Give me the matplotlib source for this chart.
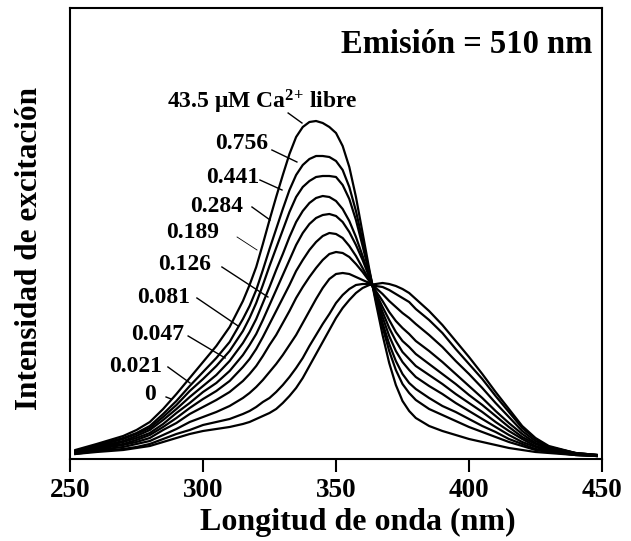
# Excitation spectra of fura-2 at several free Ca2+ levels (emission 510 nm).
# Values, intensity in arbitrary units.

import matplotlib
matplotlib.use('Agg')
import matplotlib.pyplot as plt

plt.rcParams['font.family'] = ['Liberation Serif', 'DejaVu Serif']
plt.rcParams['font.weight'] = 'bold'
plt.rcParams['mathtext.fontset'] = 'custom'
plt.rcParams['mathtext.rm'] = 'Liberation Serif:bold'
plt.rcParams['mathtext.it'] = 'Liberation Serif:bold'
plt.rcParams['mathtext.bf'] = 'Liberation Serif:bold'

# ## Data
wavelength = [252, 260, 270, 275, 280, 285, 290, 295, 300, 305, 310, 315, 317.5,
              320, 322.5, 325, 327.5, 330, 332.5, 335, 337.5, 340, 342.5, 345,
              347.5, 350, 352.5, 355, 357.5, 360, 362.5, 365, 367.5, 370, 372.5,
              375, 377.5, 380, 385, 390, 395, 400, 405, 410, 415, 420, 425, 430,
              440, 448]

ca_0 = [5, 7, 9, 11, 13, 17, 21, 25, 28, 30, 32, 35, 37, 40, 43, 46, 50, 56, 63,
        71, 81, 93, 105, 117, 129, 141, 151, 159, 166, 171, 174, 175, 176, 175,
        173, 170, 166, 160, 148, 134, 118, 102, 85, 67, 50, 33, 21, 13, 6, 4]
ca_0021 = [5, 8, 10, 12, 15, 20, 25, 29, 34, 37, 40, 45, 48, 52, 57, 61, 67, 74,
           82, 91, 101, 113, 124, 135, 145, 156, 164, 170, 174, 175, 175, 173,
           172, 169, 165, 161, 157, 150, 139, 126, 110, 95, 80, 63, 47, 31, 20,
           12, 6, 4]
ca_0047 = [6, 9, 12, 15, 18, 24, 30, 37, 42, 47, 53, 61, 66, 72, 79, 87, 95, 104,
           114, 124, 136, 148, 160, 171, 180, 185, 186, 185, 182, 179, 176, 171,
           165, 158, 152, 146, 141, 135, 124, 112, 98, 85, 71, 56, 42, 28, 18,
           12, 6, 4]
ca_0081 = [6, 10, 14, 17, 21, 29, 36, 45, 52, 59, 67, 78, 85, 93, 103, 114, 124,
           136, 148, 161, 172, 182, 191, 199, 205, 207, 206, 202, 195, 187, 178,
           168, 158, 147, 138, 131, 125, 118, 108, 97, 85, 73, 61, 48, 36, 25,
           16, 11, 5, 4]
ca_0126 = [7, 11, 15, 19, 24, 32, 41, 51, 60, 68, 78, 92, 100, 110, 122, 135, 148,
           161, 174, 188, 199, 209, 217, 223, 226, 225, 221, 213, 203, 191, 179,
           166, 152, 139, 127, 118, 112, 105, 95, 85, 75, 64, 54, 43, 32, 22, 15,
           10, 5, 4]
ca_0189 = [7, 11, 17, 21, 26, 35, 46, 56, 67, 76, 88, 104, 114, 125, 139, 154, 169,
           184, 199, 214, 226, 235, 241, 244, 245, 243, 237, 227, 214, 199, 182,
           164, 147, 131, 118, 107, 100, 93, 84, 75, 65, 56, 47, 37, 28, 20, 13,
           9, 5, 3]
ca_0284 = [8, 12, 18, 23, 29, 39, 50, 62, 73, 84, 98, 116, 127, 140, 156, 172, 189,
           205, 222, 237, 248, 256, 261, 263, 262, 258, 250, 238, 222, 203, 183,
           163, 142, 123, 108, 97, 89, 82, 73, 65, 56, 48, 40, 32, 24, 17, 12, 8,
           5, 3]
ca_0441 = [8, 13, 20, 25, 31, 42, 54, 68, 80, 93, 108, 128, 141, 156, 174, 193,
           211, 229, 247, 262, 272, 278, 282, 283, 283, 282, 274, 260, 239, 213,
           186, 161, 136, 115, 98, 85, 76, 70, 61, 53, 47, 40, 33, 27, 20, 15, 10,
           8, 4, 3]
ca_0756 = [8, 14, 21, 26, 33, 45, 58, 73, 87, 101, 117, 140, 153, 169, 189, 210,
           230, 250, 269, 284, 294, 300, 303, 303, 302, 298, 289, 272, 248, 218,
           188, 159, 132, 108, 89, 75, 66, 59, 50, 44, 38, 32, 27, 22, 17, 13, 9,
           7, 4, 3]
ca_435 = [9, 15, 23, 29, 37, 50, 65, 81, 97, 113, 132, 158, 174, 192, 215, 239,
          262, 284, 305, 322, 332, 337, 338, 336, 332, 326, 313, 292, 262, 226,
          190, 156, 124, 96, 74, 58, 48, 41, 33, 28, 24, 20, 17, 14, 11, 9, 7, 6,
          4, 3]

spectra = [ca_0, ca_0021, ca_0047, ca_0081, ca_0126, ca_0189, ca_0284, ca_0441,
           ca_0756, ca_435]
labels = ['0', '0.021', '0.047', '0.081', '0.126', '0.189', '0.284', '0.441',
          '0.756', '43.5 \u03bcM Ca$^{2{+}}$ libre']
x_ticks = [250, 300, 350, 400, 450]

# ## Label placement (text centre, leader start, leader end), data coords
label_xy = [(280.1, 64), (274.8, 92), (283.1, 124), (285.3, 161), (293.2, 194),
            (296.1, 226), (305.1, 252), (311.1, 281), (314.5, 316), (322.4, 357)]
lead_from = [(286.1, 62), (286.8, 92), (294.4, 123), (297.7, 161), (307.1, 192),
             (312.8, 222), (318.4, 252), (321.4, 279), (325.9, 309), (332.0, 346)]
lead_to = [(288.0, 60), (295.1, 76), (308.3, 101), (313.2, 133), (324.4, 162),
           (320.3, 209), (325.2, 239), (329.7, 269), (335.3, 297), (337.2, 336)]

# %%
fig = plt.figure(figsize=(6.31, 5.41), dpi=100)
ax = fig.add_axes([0.111, 0.1516, 0.843, 0.8336])

for y in spectra:
    ax.plot(wavelength, y, color='black', lw=1.6, solid_joinstyle='round')

for lab, txy, p0, p1 in zip(labels, label_xy, lead_from, lead_to):
    ax.text(txy[0], txy[1], lab, ha='center', va='center', fontsize=17)
    lw = 0.6 if lab == '0.189' else 1.0
    ax.plot([p0[0], p1[0]], [p0[1], p1[1]], color='black', lw=lw)

ax.text(0.981, 0.918, 'Emisi\u00f3n = 510 nm', transform=ax.transAxes,
        ha='right', va='center', fontsize=23.5)

ax.set_xlim(250, 450)
ax.set_ylim(0, 451)
ax.set_xticks(x_ticks)
ax.set_yticks([])
ax.tick_params(axis='x', direction='out', length=9.5, width=1.5,
               labelsize=19.5, pad=4)
for s in ax.spines.values():
    s.set_linewidth(1.5)

fig.text(0.567, 0.035, 'Longitud de onda (nm)', ha='center', va='center',
         fontsize=23)
fig.text(0.0475, 0.5416, 'Intensidad de excitaci\u00f3n', ha='center',
         va='center', rotation=90, fontsize=22.5)

fig.savefig('out.png', dpi=100)
